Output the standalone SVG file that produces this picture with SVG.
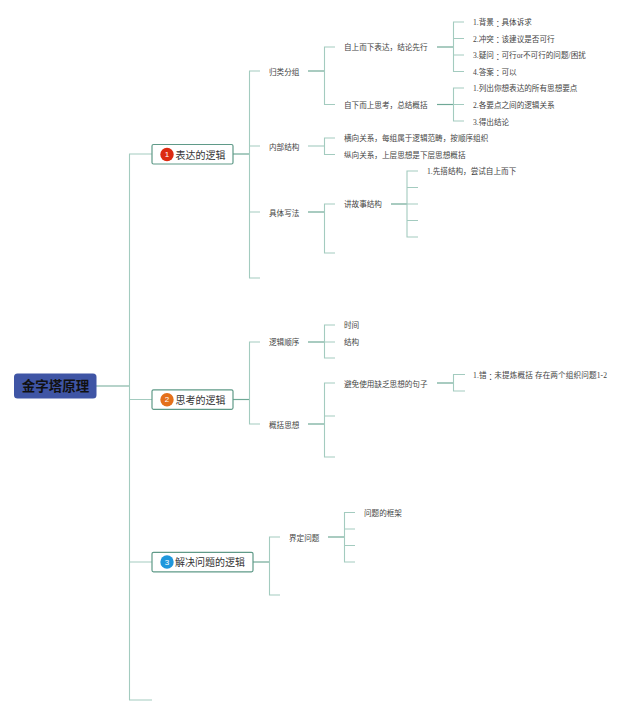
<svg xmlns="http://www.w3.org/2000/svg" width="640" height="714" viewBox="0 0 640 714">
<style>
.c{fill:none;stroke:#a3cbbf;stroke-width:1.1}
.d{fill:none;stroke:#6fa896;stroke-width:1.2}
text{font-family:"Liberation Serif","Noto Sans CJK SC",serif;fill:#444;dominant-baseline:central}
.l{font-size:7.6px;transform:translateY(.4px)}
.k{font-family:"Noto Sans CJK TC",sans-serif}
.t{font-size:10px;fill:#333}
.n{font-family:"Liberation Sans",sans-serif;font-size:8px;fill:#fff;text-anchor:middle}
.b{fill:#fff;stroke:#5f9a88;stroke-width:1.2}
</style>
<rect width="640" height="714" fill="#fff"/>
<g id="connectors">
<path class="d" d="M96 386H129.500"/>
<path class="c" d="M152 154H129.500V700H152M129.500 399.500H152M129.500 562H152"/>
<path class="d" d="M233 154H249.500"/>
<path class="c" d="M260 71H249.500V278H260M249.500 146H260M249.500 212H260"/>
<path class="d" d="M308 71H324.500"/>
<path class="c" d="M335 47H324.500V104.500H335"/>
<path class="d" d="M437 47H453.500"/>
<path class="c" d="M464 22H453.500V71.500H464M453.500 38.500H464M453.500 55H464"/>
<path class="d" d="M437 104.500H453.500"/>
<path class="c" d="M464 88H453.500V121H464M453.500 104.500H464"/>
<path class="c" d="M308 146H324.500"/>
<path class="c" d="M335 138H324.500V154.500H335"/>
<path class="d" d="M308 212H324.500"/>
<path class="c" d="M335 204H324.500V253H335"/>
<path class="d" d="M391 204H407"/>
<path class="c" d="M418 171H407V237H418M407 187.500H418M407 204H418M407 220.500H418"/>
<path class="d" d="M233 399.500H249.500"/>
<path class="c" d="M260 342H249.500V424H260"/>
<path class="d" d="M308 342H324.500"/>
<path class="c" d="M335 325H324.500V358H335M324.500 342H335"/>
<path class="d" d="M308 424H324.500"/>
<path class="c" d="M335 383H324.500V457H335M324.500 416H335"/>
<path class="d" d="M437 383H453.500"/>
<path class="c" d="M465 374.500H453.500V391H465"/>
<path class="d" d="M253 562H269.500"/>
<path class="c" d="M280 537H269.500V595H280"/>
<path class="d" d="M328 537H344.500"/>
<path class="c" d="M355 512.500H344.500V562H355M344.500 529H355M344.500 545.500H355"/>
</g>
<g id="root"><rect x="14" y="373.500" width="82.500" height="25" rx="3.500" fill="#3f55a5"/><text x="55.500" y="386.500" text-anchor="middle" style="font-size:13.500px;font-weight:700;fill:#111">金字塔原理</text></g>
<g id="topic1"><rect class="b" x="152" y="144.500" width="81" height="19.500" rx="1.500"/><circle cx="167" cy="154.500" r="6.700" fill="#dc2a10"/><text class="n" x="167" y="154.500">1</text><text class="t" x="175.500" y="155">表达的逻辑</text></g>
<g id="topic2"><rect class="b" x="152" y="389.800" width="81" height="19.500" rx="1.500"/><circle cx="167" cy="399.800" r="6.700" fill="#e4701a"/><text class="n" x="167" y="399.800">2</text><text class="t" x="175.500" y="400.300">思考的逻辑</text></g>
<g id="topic3"><rect class="b" x="152" y="552.300" width="101" height="19.500" rx="1.500"/><circle cx="167" cy="562" r="6.700" fill="#1f97dc"/><text class="n" x="167" y="562">3</text><text class="t" x="175" y="562.800">解决问题的逻辑</text></g>
<g id="n-guilei"><text class="l" x="269" y="72">归类分组</text></g>
<g id="n-neibu"><text class="l" x="269" y="146.800">内部结构</text></g>
<g id="n-juti"><text class="l" x="269" y="212.800">具体写法</text></g>
<g id="n-luoji"><text class="l" x="269" y="342.500">逻辑顺序</text></g>
<g id="n-gaikuo"><text class="l" x="269" y="425">概括思想</text></g>
<g id="n-jieding"><text class="l" x="289" y="538.500">界定问题</text></g>
<g id="n-a1"><text class="l" x="344" y="47.500">自上而下表达，结论先行</text></g>
<g id="n-a2"><text class="l" x="344" y="105.500">自下而上思考，总结概括</text></g>
<g id="n-a11"><text class="l" x="473" y="22.500">1.背景<tspan class="k">：</tspan>具体诉求</text></g>
<g id="n-a12"><text class="l" x="473" y="39">2.冲突<tspan class="k">：</tspan>该建议是否可行</text></g>
<g id="n-a13"><text class="l" x="473" y="55.500">3.疑问<tspan class="k">：</tspan>可行or不可行的问题/困扰</text></g>
<g id="n-a14"><text class="l" x="473" y="72">4.答案<tspan class="k">：</tspan>可以</text></g>
<g id="n-a21"><text class="l" x="473" y="88.500">1.列出你想表达的所有思想要点</text></g>
<g id="n-a22"><text class="l" x="473" y="105">2.各要点之间的逻辑关系</text></g>
<g id="n-a23"><text class="l" x="473" y="122">3.得出结论</text></g>
<g id="n-b1"><text class="l" x="344" y="138.500">横向关系，每组属于逻辑范畴，按顺序组织</text></g>
<g id="n-b2"><text class="l" x="344" y="155">纵向关系，上层思想是下层思想概括</text></g>
<g id="n-c1"><text class="l" x="344" y="204.500">讲故事结构</text></g>
<g id="n-c11"><text class="l" x="427" y="171.500">1.先搭结构，尝试自上而下</text></g>
<g id="n-d1"><text class="l" x="344" y="325.500">时间</text></g>
<g id="n-d2"><text class="l" x="344" y="342.500">结构</text></g>
<g id="n-e1"><text class="l" x="344" y="384">避免使用缺乏思想的句子</text></g>
<g id="n-e11"><text class="l" x="473" y="375.500" textLength="134">1.错<tspan class="k">：</tspan>未提炼概括 存在两个组织问题1-2</text></g>
<g id="n-f1"><text class="l" x="364" y="513">问题的框架</text></g>
</svg>
